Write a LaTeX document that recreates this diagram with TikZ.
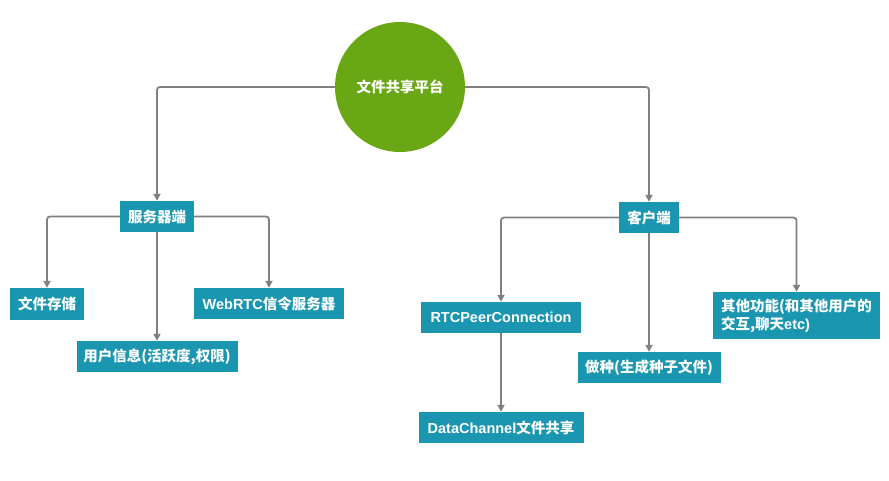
\documentclass[tikz,border=0pt]{standalone}
\usepackage{fontspec}
\setmainfont{Liberation Sans}
\newfontfamily\cjk{Noto Sans CJK SC}
\usetikzlibrary{arrows.meta}
\definecolor{boxteal}{HTML}{1A96B1}
\definecolor{rootgreen}{HTML}{6AA715}
\definecolor{conngray}{HTML}{808080}
\tikzset{
  box/.style={fill=boxteal, text=white, inner sep=0pt, font=\bfseries\fontsize{14.5}{18}\selectfont, minimum height=31pt},
  rootnode/.style={circle, fill=rootgreen, text=white, minimum size=130pt, inner sep=0pt, font=\bfseries\fontsize{14.5}{18}\selectfont},
  conn/.style={draw=conngray, line width=1.8pt, rounded corners=3pt, -{Triangle[width=7pt,length=7pt]}},
}
\begin{document}
\begin{tikzpicture}[x=1pt,y=-1pt]
\useasboundingbox (0,0) rectangle (889,480);
\node[rootnode] (root) at (400,87) {\cjk 文件共享平台};
\node[box, minimum width=74pt] (srv) at (157,216.5) {\cjk 服务器端};
\node[box, minimum width=74pt, minimum height=32pt] (fs) at (47,304) {\cjk 文件存储};
\node[box, minimum width=161pt] (ui) at (157,356.5) {\cjk 用户信息(活跃度,权限)};
\node[box, minimum width=150pt] (web) at (269,303.5) {WebRTC{\cjk 信令服务器}};
\node[box, minimum width=60pt] (cli) at (649,217.5) {\cjk 客户端};
\node[box, minimum width=160pt] (rtc) at (501,317.5) {RTCPeerConnection};
\node[box, minimum width=165pt] (dc) at (501,427.5) {DataChannel{\cjk 文件共享}};
\node[box, minimum width=143pt] (zz) at (649,367.5) {\cjk 做种(生成种子文件)};
\node[box, minimum width=167pt, minimum height=47pt, align=left] (oth) at (796.5,315.5) {{\cjk 其他功能(和其他用户的}\\{\cjk 交互,聊天}etc)};
\draw[conn] (root.west) -| (srv.north);
\draw[conn] (root.east) -| (cli.north);
\draw[conn] (srv.west) -| (fs.north);
\draw[conn] (srv.south) -- (ui.north);
\draw[conn] (srv.east) -| (web.north);
\draw[conn] (cli.west) -| (rtc.north);
\draw[conn] (cli.south) -- (zz.north);
\draw[conn] (cli.east) -| (oth.north);
\draw[conn] (rtc.south) -- (dc.north);
\end{tikzpicture}
\end{document}
